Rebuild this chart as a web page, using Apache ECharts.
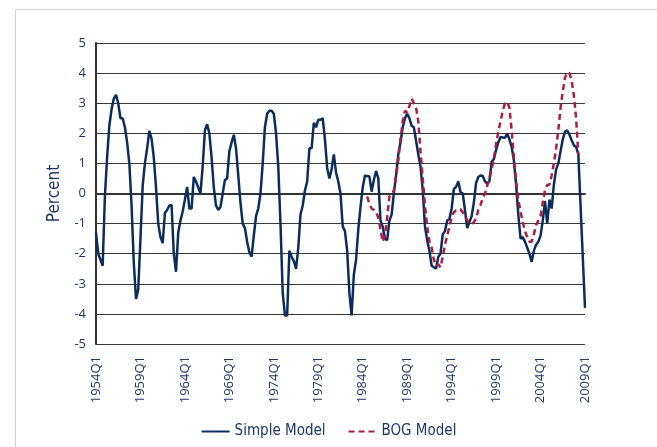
<!DOCTYPE html>
<html>
<head>
<meta charset="utf-8">
<script src="https://cdn.jsdelivr.net/npm/echarts@6/dist/echarts.min.js"></script>
<style>
html,body{margin:0;padding:0;background:#fff;}
#chart{width:657px;height:447px;}
</style>
</head>
<body>
<div id="chart"></div>
<script>
// Quarterly categories 1954Q1 .. 2009Q1
const startYear = 1954;
const endYear = 2009;
const quarters = [];
for (let y = startYear; y <= endYear; y++) {
  for (let q = 1; q <= 4; q++) {
    if (y === endYear && q > 1) break;
    quarters.push(y + 'Q' + q);
  }
}

const yTicks = [-5, -4, -3, -2, -1, 0, 1, 2, 3, 4, 5];

// Simple Model (percent), one value per quarter from 1954Q1
const simpleModel = [
-1.3,-2.0,-2.2,-2.4,-0.1,1.2,2.25,2.8,3.15,3.28,
3.0,2.5,2.5,2.2,1.7,1.0,-0.4,-2.3,-3.5,-3.2,
-1.5,0.25,1.0,1.5,2.08,1.82,1.2,0.2,-1.0,-1.45,
-1.65,-0.65,-0.55,-0.4,-0.38,-2.0,-2.6,-1.3,-0.9,-0.6,
-0.2,0.22,-0.5,-0.5,0.55,0.4,0.2,0.0,0.9,2.1,
2.3,2.0,1.2,0.2,-0.4,-0.55,-0.45,0.0,0.45,0.5,
1.4,1.7,1.95,1.5,0.6,-0.3,-1.0,-1.15,-1.6,-1.95,
-2.1,-1.4,-0.75,-0.5,0.0,1.0,2.2,2.65,2.75,2.75,
2.65,2.0,0.9,-1.0,-3.3,-4.05,-4.05,-1.9,-2.1,-2.25,
-2.5,-1.8,-0.7,-0.4,0.1,0.4,1.5,1.5,2.35,2.2,
2.45,2.45,2.5,1.8,0.85,0.5,0.8,1.3,0.7,0.4,
0.0,-1.1,-1.25,-1.9,-3.3,-4.05,-2.7,-2.2,-1.2,-0.45,
0.2,0.6,0.57,0.57,0.06,0.45,0.75,0.5,-0.9,-1.1,
-1.5,-1.55,-0.9,-0.7,0.0,0.6,1.3,1.7,2.2,2.5,
2.65,2.5,2.25,2.2,1.75,1.3,0.9,0.1,-1.1,-1.55,
-1.9,-2.4,-2.45,-2.5,-2.1,-2.0,-1.35,-1.25,-0.9,-0.85,
-0.5,0.15,0.22,0.4,0.05,0.0,-0.55,-1.15,-0.95,-0.75,
-0.3,0.35,0.55,0.6,0.58,0.4,0.33,0.4,1.05,1.15,
1.45,1.7,1.88,1.86,1.85,1.99,1.8,1.55,1.1,0.3,
-0.7,-1.5,-1.45,-1.6,-1.8,-2.0,-2.27,-1.9,-1.7,-1.6,
-1.4,-0.9,-0.25,-1.0,-0.2,-0.5,0.3,0.8,1.0,1.4,
1.8,2.05,2.1,1.95,1.77,1.6,1.55,1.3,-0.4,-2.1,
-3.8
];

// BOG Model: starts at 1984Q3 (index 122), ends 2008Q2
const bogStart = '1984Q3';
const bogModel = [
-0.1,-0.35,-0.5,-0.55,-0.62,-0.8,-1.2,-1.6,-1.4,-0.8,
-0.1,-0.03,0.1,0.6,1.1,1.8,2.4,2.75,2.7,2.9,
3.15,3.0,2.85,2.4,1.4,0.5,-0.4,-1.1,-1.6,-1.8,
-2.2,-2.4,-2.35,-2.45,-2.1,-1.7,-1.4,-1.1,-0.8,-0.62,
-0.56,-0.55,-0.52,-0.62,-0.77,-0.88,-0.97,-1.02,-0.95,-0.83,
-0.55,-0.38,-0.15,0.0,0.25,0.5,0.8,1.15,1.65,2.05,
2.4,2.75,3.0,3.05,2.85,2.1,1.2,0.4,-0.2,-0.6,
-0.95,-1.25,-1.45,-1.6,-1.6,-1.35,-1.05,-0.9,-0.75,-0.3,
0.1,0.28,0.3,0.6,1.0,1.5,2.1,2.85,3.4,3.85,
4.03,4.0,3.75,3.25,2.5,1.3
];

const bogIdx = quarters.indexOf(bogStart);
const bogSeries = quarters.map((q, i) => {
  const k = i - bogIdx;
  return (k >= 0 && k < bogModel.length) ? bogModel[k] : null;
});

const navy = '#0b2d5c';
const red = '#a91d45';
const textColor = '#1c3766';
const tickFont = "'Open Sans',sans-serif";
const condFont = "'DejaVu Sans Condensed','Open Sans',sans-serif";

const chart = echarts.init(document.getElementById('chart'), null, {renderer: 'canvas'});
chart.setOption({
  animation: false,
  backgroundColor: '#ffffff',
  graphic: [{
    type: 'rect',
    left: 13, top: 7,
    shape: {x: 0.5, y: 0.5, width: 700, height: 500},
    style: {fill: 'none', stroke: '#cfcfcf', lineWidth: 1},
    silent: true
  }],
  grid: {left: 96, right: 72, top: 43, bottom: 103, containLabel: false},
  legend: {
    bottom: 3,
    left: 'center',
    itemWidth: 28,
    itemHeight: 10,
    itemGap: 22,
    itemStyle: {opacity: 0},
    textStyle: {color: textColor, fontSize: 15, fontFamily: condFont},
    data: ['Simple Model', 'BOG Model']
  },
  xAxis: {
    type: 'category',
    data: quarters,
    boundaryGap: false,
    axisLine: {show: true, lineStyle: {color: '#333333', width: 2}},
    axisTick: {show: false},
    axisLabel: {
      interval: 19,
      rotate: 90,
      margin: 12,
      color: textColor,
      fontSize: 13,
      fontFamily: tickFont
    },
    splitLine: {show: false}
  },
  yAxis: {
    type: 'value',
    min: yTicks[0],
    max: yTicks[yTicks.length - 1],
    interval: 1,
    name: 'Percent',
    nameLocation: 'middle',
    nameGap: 31,
    nameRotate: 90,
    nameTextStyle: {color: textColor, fontSize: 17, fontFamily: condFont},
    axisLine: {show: true, lineStyle: {color: '#333333', width: 2}},
    axisTick: {show: false},
    axisLabel: {color: textColor, fontSize: 13, margin: 10, fontFamily: tickFont},
    splitLine: {show: true, lineStyle: {color: '#3a3a3a', width: 1}}
  },
  series: [
    {
      name: 'Simple Model',
      type: 'line',
      data: simpleModel,
      symbol: 'none',
      smooth: false,
      lineStyle: {color: navy, width: 2.5},
      itemStyle: {color: navy},
      z: 3
    },
    {
      name: 'BOG Model',
      type: 'line',
      data: bogSeries,
      symbol: 'none',
      connectNulls: false,
      lineStyle: {color: red, width: 2.5, type: [6, 4]},
      itemStyle: {color: red},
      z: 4
    }
  ]
});
</script>
</body>
</html>
